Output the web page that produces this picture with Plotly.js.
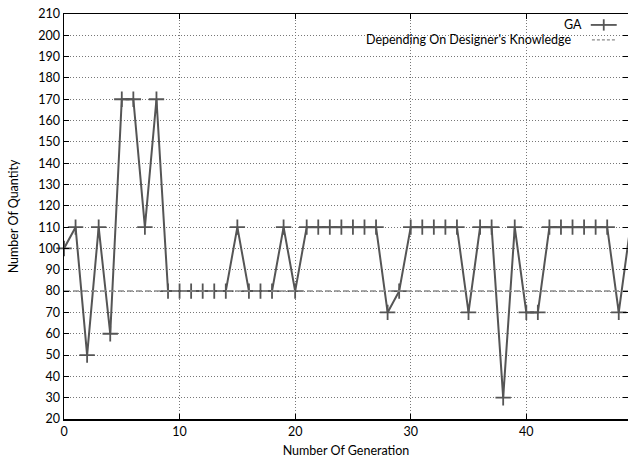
<!DOCTYPE html>
<html>
<head>
<meta charset="utf-8">
<script src="https://cdn.plot.ly/plotly-3.0.1.min.js"></script>
<style>html,body{margin:0;padding:0;background:#fff}#chart{width:628px;height:459px}</style>
</head>
<body>
<div id="chart"></div>
<script>
const generations = [0,1,2,3,4,5,6,7,8,9,10,11,12,13,14,15,16,17,18,19,20,21,22,23,24,25,26,27,28,29,30,31,32,33,34,35,36,37,38,39,40,41,42,43,44,45,46,47,48,49];
const gaValues = [100,110,50,110,60,170,170,110,170,80,80,80,80,80,80,110,80,80,80,110,80,110,110,110,110,110,110,110,70,80,110,110,110,110,110,70,110,110,30,110,70,70,110,110,110,110,110,110,70,110];
const designerX = [0,49];
const designerValue = [80,80];
const seriesNames = ["GA","Depending On Designer's Knowledge"];
const xTicks = [0,10,20,30,40];
const yTicks = [20,30,40,50,60,70,80,90,100,110,120,130,140,150,160,170,180,190,200,210];

const fontFam = "Lato, 'Liberation Sans', sans-serif";
const lineCol = '#555555';

const traces = [
  {x: generations, y: gaValues, type: 'scatter', mode: 'lines+markers', name: seriesNames[0],
   line: {color: lineCol, width: 2},
   marker: {symbol: 'cross-thin', size: 11, line: {color: lineCol, width: 1.8}},
   cliponaxis: false, showlegend: false},
  {x: designerX, y: designerValue, type: 'scatter', mode: 'lines', name: seriesNames[1],
   line: {color: '#8a8a8a', width: 1.5, dash: '6px,3px'}, showlegend: false}
];

const layout = {
  width: 628, height: 459,
  margin: {l: 64, r: 0, t: 14, b: 40},
  paper_bgcolor: '#fff', plot_bgcolor: '#fff',
  font: {family: fontFam, size: 12.5, color: '#000'},
  showlegend: false,
  xaxis: {range: [0, 48.8], tickvals: xTicks, ticktext: xTicks.map(String),
    ticks: 'inside', ticklen: 5, tickcolor: '#000', mirror: 'allticks',
    showline: true, linecolor: '#000', linewidth: 1.5,
    showgrid: true, gridcolor: '#777', griddash: '1px,2px', gridwidth: 1,
    zeroline: false,
    title: {text: 'Number Of Generation', font: {size: 12.5}, standoff: 8}},
  yaxis: {range: [20, 210], tickvals: yTicks, ticktext: yTicks.map(String),
    ticks: 'inside', ticklen: 5, tickcolor: '#000', mirror: 'allticks',
    showline: true, linecolor: '#000', linewidth: 1.5,
    showgrid: true, gridcolor: '#777', griddash: '1px,2px', gridwidth: 1,
    zeroline: false,
    title: {text: 'Number Of Quantity', font: {size: 12.5}, standoff: 17}},
  shapes: [
    {type: 'rect', xref: 'paper', yref: 'paper', x0: 0.458, x1: 1.0, y0: 0.915, y1: 0.995,
     fillcolor: '#fff', line: {width: 0}, layer: 'between'},
    {type: 'line', xref: 'paper', yref: 'paper', x0: 0.934, x1: 0.980, y0: 0.973, y1: 0.973,
     line: {color: lineCol, width: 1.8}},
    {type: 'line', xref: 'paper', yref: 'paper', x0: 0.957, x1: 0.957, y0: 0.959, y1: 0.987,
     line: {color: lineCol, width: 1.8}},
    {type: 'line', xref: 'paper', yref: 'paper', x0: 0.936, x1: 0.980, y0: 0.936, y1: 0.936,
     line: {color: '#8a8a8a', width: 1.2, dash: '3px,2px'}}
  ],
  annotations: [
    {xref: 'paper', yref: 'paper', x: 0.922, y: 0.975, xanchor: 'right', yanchor: 'middle',
     text: seriesNames[0], showarrow: false, font: {size: 12.5}},
    {xref: 'paper', yref: 'paper', x: 0.903, y: 0.938, xanchor: 'right', yanchor: 'middle',
     text: seriesNames[1], showarrow: false, font: {size: 12.5}}
  ]
};

Plotly.newPlot('chart', traces, layout, {displayModeBar: false, staticPlot: true});
</script>
</body>
</html>
